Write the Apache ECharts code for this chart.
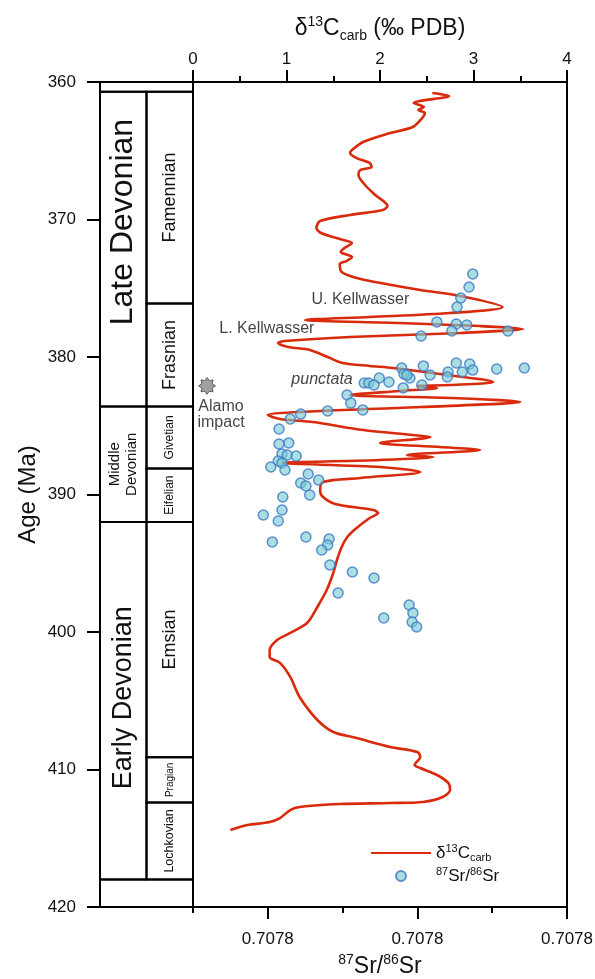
<!DOCTYPE html>
<html><head><meta charset="utf-8">
<script src="https://cdn.jsdelivr.net/npm/echarts@6/dist/echarts.min.js"></script>
<style>html,body{margin:0;padding:0;background:#fff}#c{width:595px;height:979px}</style>
</head><body><div id="c"></div>
<script>
// ---------- data ----------
const ageMin = 360, ageMax = 420, ageStep = 10;
const d13cMin = 0, d13cMax = 4;
const srMin = 0.70777, srMax = 0.70782, srStep = 0.00001;
const srLabelValues = [0.70778, 0.70780, 0.70782];

const periodNames = ['Late Devonian', 'Middle\nDevonian', 'Early Devonian'];
const periodTop   = [360.7, 383.6, 392.0];
const periodBase  = [383.6, 392.0, 418.0];
const stageNames = ['Famennian', 'Frasnian', 'Givetian', 'Eifelian', 'Emsian', 'Pragian', 'Lochkovian'];
const stageTop   = [360.7, 376.1, 383.6, 388.1, 392.0, 409.1, 412.4];
const stageBase  = [376.1, 383.6, 388.1, 392.0, 409.1, 412.4, 418.0];
const outerStripTop  = [360.0, 418.0];
const outerStripBase = [360.7, 420.0];

const d13cAge = [
  360.80, 361.02, 361.53, 361.82, 362.04, 362.25, 362.62, 363.27, 363.71, 364.36,
  364.95, 365.16, 365.53, 365.89, 366.18, 366.40, 366.76, 367.49, 368.22, 369.02,
  369.31, 369.67, 370.11, 370.62, 370.98, 371.42, 371.71, 372.07, 372.36, 372.73,
  373.02, 373.24, 373.82, 374.25, 374.55, 375.13, 375.56, 376.36, 376.80, 377.09,
  377.31, 377.53, 377.75, 377.96, 378.25, 378.55, 378.84, 378.98, 379.27, 379.49,
  380.00, 380.44, 380.65, 380.80, 381.24, 381.82, 382.04, 382.11, 382.25, 382.47,
  382.76, 382.98, 383.27, 383.64, 383.93, 384.22, 384.51, 384.73, 385.31, 385.67,
  385.82, 386.25, 386.55, 386.76, 387.13, 387.27, 387.49, 387.71, 388.00, 388.36,
  388.80, 389.09, 389.67, 390.11, 390.69, 391.13, 391.35, 391.71, 392.44, 393.09,
  393.82, 394.76, 395.71, 396.95, 398.18, 399.35, 400.07, 400.58, 401.31, 401.82,
  402.25, 403.27, 404.73, 406.40, 407.27, 407.71, 408.36, 408.73, 409.09, 409.67,
  409.89, 410.40, 410.98, 411.49, 412.00, 412.36, 412.44, 412.51, 412.73, 412.95,
  413.53, 413.82, 414.04, 414.40
];
const d13cValue = [
  2.56, 2.74, 2.36, 2.47, 2.41, 2.48, 2.45, 2.35, 2.11, 1.82,
  1.70, 1.68, 1.75, 1.89, 1.91, 1.79, 1.77, 1.84, 1.95, 2.08,
  2.03, 1.68, 1.36, 1.32, 1.37, 1.57, 1.70, 1.62, 1.58, 1.70,
  1.64, 1.57, 1.59, 1.75, 1.95, 2.43, 2.86, 3.31, 2.75, 1.89,
  1.20, 2.21, 3.07, 3.53, 2.86, 1.68, 0.98, 0.91, 1.02, 1.25,
  1.44, 1.60, 1.89, 2.14, 2.64, 3.21, 2.75, 2.40, 2.61, 2.21,
  1.68, 2.75, 3.50, 2.43, 1.36, 0.80, 0.93, 1.28, 1.82, 2.35,
  2.54, 2.00, 2.64, 3.07, 2.29, 2.57, 2.00, 0.96, 2.00, 2.43,
  1.79, 1.39, 1.36, 1.38, 1.52, 1.93, 1.98, 1.89, 1.75, 1.65,
  1.59, 1.54, 1.50, 1.43, 1.33, 1.22, 1.04, 0.90, 0.82, 0.82,
  0.93, 1.04, 1.14, 1.33, 1.50, 1.75, 2.11, 2.40, 2.43, 2.37,
  2.43, 2.61, 2.73, 2.75, 2.67, 2.46, 2.11, 1.57, 1.14, 1.04,
  0.93, 0.82, 0.58, 0.40
];

const srAge = [
  373.96, 374.91, 375.71, 376.36, 377.45, 377.60, 377.67, 378.11, 378.11, 378.47,
  380.80, 380.65, 380.44, 380.51, 380.87, 380.80, 380.95, 381.09, 381.09, 381.45,
  381.31, 381.53, 381.24, 381.53, 381.82, 381.89, 381.89, 382.04, 382.04, 382.25,
  382.76, 383.35, 383.85, 383.93, 384.15, 384.51, 385.24, 386.33, 386.25, 387.05,
  387.13, 387.20, 387.56, 387.71, 388.00, 388.22, 388.51, 388.95, 389.16, 389.38,
  390.04, 390.18, 391.13, 391.49, 391.93, 393.45, 393.09, 393.24, 393.67, 394.04,
  395.13, 395.64, 396.07, 397.16, 398.04, 398.62, 399.27, 399.64, 398.98, 381.31
];
const srValue = [
  0.7078074, 0.7078069, 0.7078058, 0.7078053, 0.7078026, 0.7078052, 0.7078066, 0.7078046, 0.7078121, 0.7078005,
  0.7077979, 0.7078008, 0.7078052, 0.7078070, 0.7078106, 0.7078143, 0.7078074, 0.7078060, 0.7078041, 0.7078040,
  0.7078017, 0.7077990, 0.7077982, 0.7077949, 0.7077962, 0.7077929, 0.7077935, 0.7077942, 0.7078006, 0.7077981,
  0.7077906, 0.7077911, 0.7077927, 0.7077880, 0.7077844, 0.7077830, 0.7077815, 0.7077815, 0.7077828, 0.7077819,
  0.7077826, 0.7077838, 0.7077814, 0.7077819, 0.7077804, 0.7077823, 0.7077854, 0.7077868, 0.7077844, 0.7077851,
  0.7077856, 0.7077820, 0.7077819, 0.7077794, 0.7077814, 0.7077806, 0.7077851, 0.7077882, 0.7077880, 0.7077872,
  0.7077883, 0.7077913, 0.7077942, 0.7077894, 0.7077989, 0.7077994, 0.7077993, 0.7077999, 0.7077955, 0.7077986
];

const annoText = ['U. Kellwasser', 'L. Kellwasser', 'punctata', 'Alamo\nimpact'];
const annoD13c = [1.79, 0.79, 1.38, 0.30];
const annoAge  = [375.82, 377.90, 381.62, 384.2];
const impactD13c = [0.15];
const impactAge  = [382.1];

// ---------- styles ----------
const FONT = '"Liberation Sans", Arial, Helvetica, sans-serif';
const INK = '#111';
const periodFont = [32, 15, 27];
const periodShift = [-27, 0, -3];   // px vertical text offset inside the cell
const stageFont  = [18, 18, 12, 12, 18, 10, 12.5];

// column cells (grid 0, x: 0..1 period column, 1..2 stage column)
const cells = [];
for (let i = 0; i < outerStripTop.length; i++)
  cells.push({ v: [0, 2, outerStripTop[i], outerStripBase[i]], text: '', fs: 12, dy: 0 });
for (let i = 0; i < periodNames.length; i++)
  cells.push({ v: [0, 1, periodTop[i], periodBase[i]], text: periodNames[i], fs: periodFont[i], dy: periodShift[i] });
for (let i = 0; i < stageNames.length; i++)
  cells.push({ v: [1, 2, stageTop[i], stageBase[i]], text: stageNames[i], fs: stageFont[i], dy: 0 });

function starPath(n, R, r) {
  let d = '';
  for (let i = 0; i < 2 * n; i++) {
    const a = Math.PI * i / n - Math.PI / 2, rad = i % 2 ? r : R;
    d += (i ? 'L' : 'M') + (rad * Math.cos(a)).toFixed(2) + ',' + (rad * Math.sin(a)).toFixed(2);
  }
  return 'path://' + d + 'Z';
}

const zip = (a, b) => a.map((v, i) => [v, b[i]]);
const axisLineStyle = { color: '#000', width: 2 };

const chart = echarts.init(document.getElementById('c'), null, { renderer: 'canvas' });
chart.setOption({
  animation: false,
  textStyle: { fontFamily: FONT, color: INK },
  grid: [
    { left: 100, top: 82, width: 93, height: 825, outerBoundsMode: 'none', containLabel: false },
    { left: 193, top: 82, width: 374, height: 825, outerBoundsMode: 'none', containLabel: false }
  ],
  xAxis: [
    { gridIndex: 0, type: 'value', min: 0, max: 2, position: 'top',
      axisLine: { show: false }, axisTick: { show: false }, axisLabel: { show: false }, splitLine: { show: false } },
    { gridIndex: 1, type: 'value', min: d13cMin, max: d13cMax, interval: 1, position: 'top',
      axisLine: { show: true, lineStyle: axisLineStyle },
      axisTick: { show: true, length: 12, lineStyle: { color: '#000', width: 2 } },
      minorTick: { show: true, splitNumber: 2, length: 6, lineStyle: { color: '#000', width: 2 } },
      axisLabel: { fontSize: 17, margin: 14, color: INK, fontFamily: FONT },
      splitLine: { show: false },
      name: '{n|δ}{sup|13}{n|C}{sub|carb}{n| (‰ PDB)}', nameLocation: 'middle', nameGap: 39,
      nameTextStyle: { fontFamily: FONT, color: INK, rich: {
        n: { fontSize: 23, lineHeight: 28, fontFamily: FONT, color: INK },
        sup: { fontSize: 14, lineHeight: 14, verticalAlign: 'top', fontFamily: FONT, color: INK },
        sub: { fontSize: 14, lineHeight: 14, verticalAlign: 'bottom', fontFamily: FONT, color: INK } } } },
    { gridIndex: 1, type: 'value', min: srMin, max: srMax, interval: srStep, position: 'bottom',
      axisLine: { show: true, onZero: false, lineStyle: axisLineStyle },
      axisTick: { show: true, length: 6, lineStyle: { color: '#000', width: 2 } },
      axisLabel: { show: true, customValues: srLabelValues, formatter: v => Number(v).toFixed(4),
        fontSize: 17, margin: 24, color: INK, fontFamily: FONT },
      splitLine: { show: false },
      name: '{sup|87}{n|Sr/}{sup|86}{n|Sr}', nameLocation: 'middle', nameGap: 46,
      nameTextStyle: { fontFamily: FONT, color: INK, rich: {
        n: { fontSize: 23, lineHeight: 28, fontFamily: FONT, color: INK },
        sup: { fontSize: 14, lineHeight: 14, verticalAlign: 'top', fontFamily: FONT, color: INK } } } },
    { gridIndex: 1, type: 'value', min: srMin, max: srMax, position: 'bottom',
      axisLine: { show: false },
      axisTick: { show: true, customValues: srLabelValues, length: 12, lineStyle: { color: '#000', width: 2 } },
      axisLabel: { show: false }, splitLine: { show: false } }
  ],
  yAxis: [
    { gridIndex: 0, type: 'value', inverse: true, min: ageMin, max: ageMax, interval: ageStep,
      axisLine: { show: true, lineStyle: axisLineStyle },
      axisTick: { show: true, length: 13, lineStyle: { color: '#000', width: 2 } },
      axisLabel: { fontSize: 17, margin: 24, color: INK, fontFamily: FONT },
      splitLine: { show: false },
      name: 'Age (Ma)', nameLocation: 'middle', nameGap: 60, nameRotate: 90,
      nameTextStyle: { fontSize: 24, fontFamily: FONT, color: INK } },
    { gridIndex: 1, type: 'value', inverse: true, min: ageMin, max: ageMax, position: 'left',
      axisLine: { show: true, onZero: false, lineStyle: axisLineStyle },
      axisTick: { show: false }, axisLabel: { show: false }, splitLine: { show: false } },
    { gridIndex: 1, type: 'value', inverse: true, min: ageMin, max: ageMax, position: 'right',
      axisLine: { show: true, onZero: false, lineStyle: axisLineStyle },
      axisTick: { show: false }, axisLabel: { show: false }, splitLine: { show: false } }
  ],
  legend: {
    orient: 'vertical', left: 370, top: 843, padding: 0, itemWidth: 60, itemHeight: 10, itemGap: 3,
    data: [{ name: 'd13c', itemStyle: { opacity: 0 } }, { name: 'sr' }],
    formatter: name => name === 'd13c' ? '{n|δ}{sup|13}{n|C}{sub|carb}' : '{sup|87}{n|Sr/}{sup|86}{n|Sr}',
    textStyle: { fontFamily: FONT, color: INK, rich: {
      n: { fontSize: 17, lineHeight: 20, fontFamily: FONT, color: INK },
      sup: { fontSize: 11, lineHeight: 11, verticalAlign: 'top', fontFamily: FONT, color: INK },
      sub: { fontSize: 11, lineHeight: 11, verticalAlign: 'bottom', fontFamily: FONT, color: INK } } }
  },
  series: [
    { type: 'custom', name: 'column', xAxisIndex: 0, yAxisIndex: 0, clip: false,
      encode: { x: [0, 1], y: [2, 3] },
      data: cells.map(c => c.v),
      renderItem: (params, api) => {
        const c = cells[params.dataIndex];
        const p0 = api.coord([api.value(0), api.value(2)]);
        const p1 = api.coord([api.value(1), api.value(3)]);
        const children = [{ type: 'rect',
          shape: { x: p0[0], y: p0[1], width: p1[0] - p0[0], height: p1[1] - p0[1] },
          style: { fill: 'none', stroke: '#000', lineWidth: 2 } }];
        if (c.text) children.push({ type: 'text', x: (p0[0] + p1[0]) / 2, y: (p0[1] + p1[1]) / 2 + c.dy,
          rotation: Math.PI / 2,
          style: { text: c.text, fontSize: c.fs, lineHeight: Math.round(c.fs * 1.15), fontFamily: FONT,
            fill: INK, align: 'center', verticalAlign: 'middle' } });
        return { type: 'group', children };
      } },
    { type: 'line', name: 'd13c', xAxisIndex: 1, yAxisIndex: 1, data: zip(d13cValue, d13cAge),
      showSymbol: false, symbol: 'none', smooth: 0.3, z: 3,
      lineStyle: { color: '#d92b0c', width: 2.6 }, itemStyle: { color: '#d92b0c' } },
    { type: 'scatter', name: 'sr', xAxisIndex: 2, yAxisIndex: 1, data: zip(srValue, srAge),
      symbol: 'circle', symbolSize: 10, z: 4,
      itemStyle: { color: 'rgba(122,204,210,0.8)', borderColor: '#3b78c6', borderWidth: 1.5 } },
    { type: 'scatter', name: 'impact', xAxisIndex: 1, yAxisIndex: 1, data: zip(impactD13c, impactAge),
      symbol: starPath(8, 9, 6), symbolSize: 17, z: 4,
      itemStyle: { color: '#8a8a8a', borderColor: '#444', borderWidth: 1 } },
    { type: 'scatter', name: 'anno', xAxisIndex: 1, yAxisIndex: 1, symbolSize: 0, z: 5, silent: true,
      data: annoText.map((t, i) => ({ value: [annoD13c[i], annoAge[i]],
        label: { show: true, position: 'inside', formatter: t, fontSize: 16, lineHeight: 16,
          fontStyle: t === 'punctata' ? 'italic' : 'normal', fontFamily: FONT, color: INK } })) }
  ]
});
</script></body></html>
